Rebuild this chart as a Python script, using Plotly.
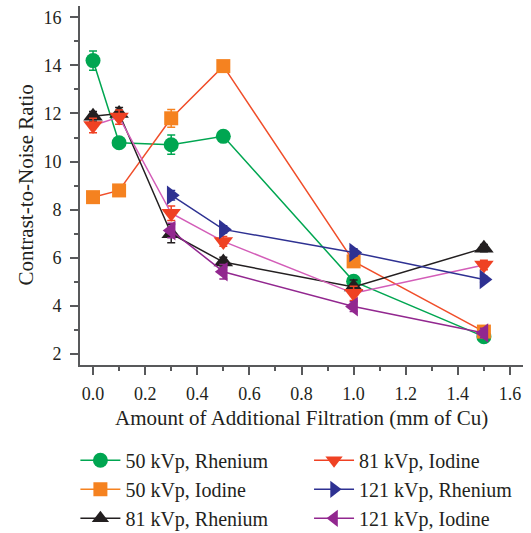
import plotly.graph_objects as go

# ---- data ----
x_all = [0.0, 0.1, 0.3, 0.5, 1.0, 1.5]
x_121 = [0.3, 0.5, 1.0, 1.5]

rh50 = [14.2, 10.78, 10.7, 11.05, 5.02, 2.72]
rh50_err = [0.4, 0.12, 0.4, 0.15, 0.15, 0.12]
i50 = [8.52, 8.8, 11.8, 13.97, 5.85, 2.93]
i50_err = [0.22, 0.12, 0.37, 0.12, 0.2, 0.15]
rh81 = [11.88, 12.0, 7.0, 5.82, 4.78, 6.4]
rh81_err = [0.2, 0.25, 0.38, 0.2, 0.3, 0.15]
i81 = [11.5, 11.85, 7.85, 6.68, 4.52, 5.7]
i81_err = [0.3, 0.3, 0.3, 0.2, 0.3, 0.2]
rh121 = [8.6, 7.18, 6.22, 5.1]
rh121_err = [0.2, 0.15, 0.15, 0.12]
i121 = [7.13, 5.42, 3.97, 2.87]
i121_err = [0.3, 0.3, 0.2, 0.2]

names = ["50 kVp, Rhenium", "50 kVp, Iodine", "81 kVp, Rhenium",
         "81 kVp, Iodine", "121 kVp, Rhenium", "121 kVp, Iodine"]
x_title = "Amount of Additional Filtration (mm of Cu)"
y_title = "Contrast-to-Noise Ratio"

series = [
    (x_all, rh50, rh50_err, "#00A651", "#00A651", "circle", 15),
    (x_all, i50, i50_err, "#F58220", "#F04E2A", "square", 14),
    (x_all, rh81, rh81_err, "#231F20", "#231F20", "triangle-up", 17),
    (x_all, i81, i81_err, "#EF4123", "#D35DB8", "triangle-down", 17),
    (x_121, rh121, rh121_err, "#2E3192", "#2E3192", "triangle-right", 17),
    (x_121, i121, i121_err, "#92278F", "#92278F", "triangle-left", 17),
]

FONT = "'Liberation Serif', 'Times New Roman', serif"
fig = go.Figure()

for name, (xs, ys, es, mcol, lcol, sym, sz) in zip(names, series):
    fig.add_trace(go.Scatter(
        x=xs, y=ys, mode="lines+markers", name=name, showlegend=False,
        line=dict(color=lcol, width=1.5),
        marker=dict(symbol=sym, size=sz, color=mcol, line=dict(width=0)),
        error_y=dict(type="data", array=es, visible=True, color=mcol,
                     thickness=1.5, width=4),
    ))

# legend-only entries (legend lines use the marker colour)
for i, (name, (xs, ys, es, mcol, lcol, sym, sz)) in enumerate(zip(names, series)):
    fig.add_trace(go.Scatter(
        x=[None], y=[None], mode="lines+markers", name=name,
        legend="legend" if i < 3 else "legend2", legendgroup=f"g{i}",
        line=dict(color=mcol, width=1.5),
        marker=dict(symbol=sym, size=min(sz, 15), color=mcol, line=dict(width=0)),
    ))

axis_col = "#58595B"
fig.update_layout(
    width=531, height=533,
    margin=dict(l=80, r=8, t=6, b=168, autoexpand=False),
    paper_bgcolor="white", plot_bgcolor="white",
    font=dict(family=FONT, size=18, color="#231F20"),
    xaxis=dict(
        range=[-0.05, 1.65], tickmode="array", automargin=False,
        tickvals=[0, 0.2, 0.4, 0.6, 0.8, 1.0, 1.2, 1.4, 1.6],
        ticktext=["0.0", "0.2", "0.4", "0.6", "0.8", "1.0", "1.2", "1.4", "1.6"],
        ticks="outside", ticklen=8, tickwidth=1.5, tickcolor=axis_col,
        minor=dict(tickvals=[0.1, 0.3, 0.5, 0.7, 0.9, 1.1, 1.3, 1.5], ticks="outside",
                   ticklen=4, tickwidth=1.5, tickcolor=axis_col),
        showline=True, linecolor=axis_col, linewidth=2, showgrid=False, zeroline=False,
        tickfont=dict(size=18, family=FONT), ticklabelstandoff=3,
    ),
    yaxis=dict(
        range=[1.54, 16.47], tickmode="array", automargin=False,
        tickvals=[2, 4, 6, 8, 10, 12, 14, 16],
        ticks="outside", ticklen=8, tickwidth=1.5, tickcolor=axis_col,
        minor=dict(tickvals=[3, 5, 7, 9, 11, 13, 15], ticks="outside",
                   ticklen=4, tickwidth=1.5, tickcolor=axis_col),
        showline=True, linecolor=axis_col, linewidth=2, showgrid=False, zeroline=False,
        tickfont=dict(size=18, family=FONT), ticklabelstandoff=5,
    ),
    annotations=[
        dict(text=x_title, xref="paper", yref="paper", x=0.5, y=0, yshift=-53,
             xanchor="center", yanchor="middle", showarrow=False,
             font=dict(size=21, family=FONT, color="#231F20")),
        dict(text=y_title, xref="paper", yref="paper", x=0, y=0.5, xshift=-55,
             xanchor="center", yanchor="middle", showarrow=False, textangle=-90,
             font=dict(size=21, family=FONT, color="#231F20")),
    ],
    legend=dict(x=0.142, y=0.173, xref="container", yref="container",
                xanchor="left", yanchor="top", orientation="v", itemwidth=40,
                font=dict(size=20, family=FONT), tracegroupgap=0, bgcolor="rgba(0,0,0,0)"),
    legend2=dict(x=0.582, y=0.173, xref="container", yref="container",
                 xanchor="left", yanchor="top", orientation="v", itemwidth=40,
                 font=dict(size=20, family=FONT), tracegroupgap=0, bgcolor="rgba(0,0,0,0)"),
)

fig.write_html("out.html")
